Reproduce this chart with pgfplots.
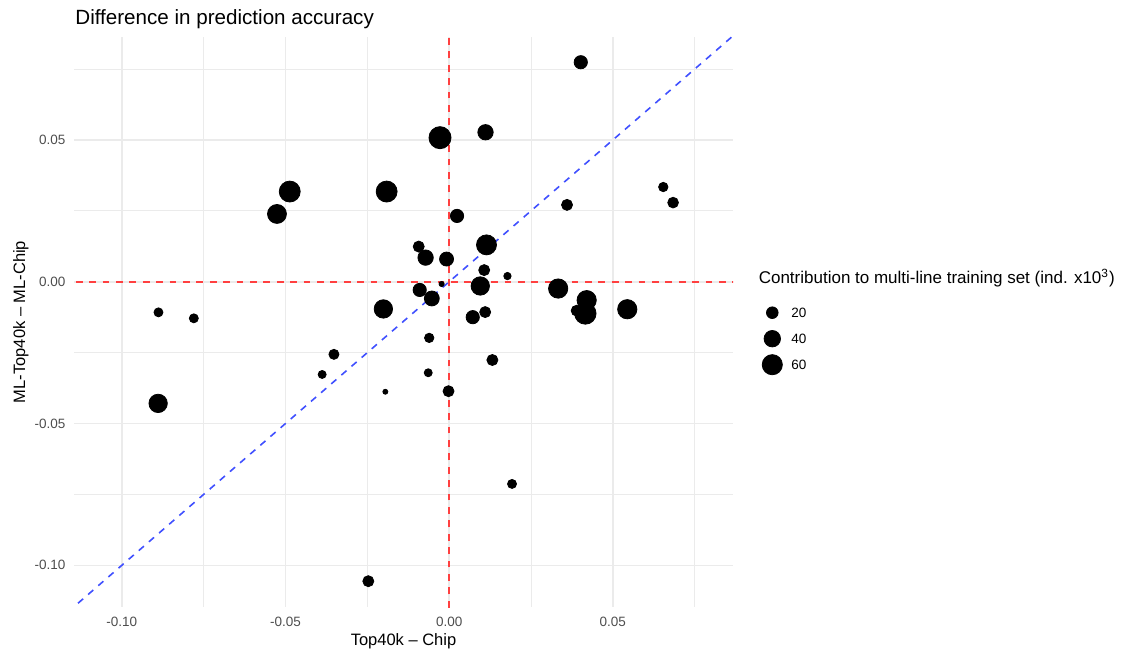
\documentclass[border=0pt]{standalone}
\usepackage{fontspec}
\setmainfont{Liberation Sans}
\usepackage{pgfplots}
\usepackage{pgfplotstable}
\pgfplotsset{compat=1.18}
\definecolor{gridgrey}{HTML}{EBEBEB}
\definecolor{ticktext}{HTML}{4D4D4D}
\definecolor{refred}{HTML}{FF4040}
\definecolor{refblue}{HTML}{4050FF}

% x = Top40k - Chip, y = ML-Top40k - ML-Chip, v = contribution (ind. x10^3)
\pgfplotstableread{
x y v
0.0402 0.0774 26
-0.0028 0.0508 72
0.0111 0.0527 35
-0.0487 0.0318 65
-0.0191 0.0318 65
-0.0526 0.0239 53
0.0654 0.0334 13
0.0684 0.0279 17
0.0360 0.0271 18
0.0024 0.0232 26
-0.0093 0.0124 18
0.0114 0.0130 59
-0.0072 0.0085 35
-0.0008 0.0080 29
0.0107 0.0041 18
0.0178 0.0020 8
-0.0023 -0.0008 4
0.0095 -0.0015 50
-0.0090 -0.0029 26
-0.0053 -0.0059 33
0.0333 -0.0024 55
0.0389 -0.0102 17
0.0420 -0.0065 55
0.0416 -0.0112 68
0.0544 -0.0097 55
-0.0201 -0.0096 50
0.0072 -0.0125 26
0.0110 -0.0107 18
-0.0888 -0.0108 12
-0.0780 -0.0129 12
-0.0352 -0.0256 15
-0.0388 -0.0327 9.5
-0.0195 -0.0388 3.7
-0.0061 -0.0198 13
-0.0064 -0.0321 9.5
-0.0002 -0.0386 18
0.0132 -0.0276 18
-0.0889 -0.0429 50
-0.0247 -0.1056 18
0.0192 -0.0713 12
}\pointdata

\begin{document}
\begin{tikzpicture}
\useasboundingbox (0,0) rectangle (562.5pt,325pt);
\begin{axis}[
  at={(37pt,21.5pt)}, anchor=south west,
  scale only axis, width=329.5pt, height=285pt,
  xmin=-0.1146, xmax=0.0867, ymin=-0.1147, ymax=0.0863,
  scaled ticks=false,
  axis line style={draw=none},
  major tick length=0pt, minor tick length=0pt,
  xtick={-0.1,-0.05,0,0.05}, xticklabels={-0.10,-0.05,0.00,0.05},
  ytick={-0.1,-0.05,0,0.05}, yticklabels={-0.10,-0.05,0.00,0.05},
  minor xtick={-0.075,-0.025,0.025,0.075},
  minor ytick={-0.075,-0.025,0.025,0.075},
  grid=both,
  major grid style={gridgrey, line width=0.8pt},
  minor grid style={gridgrey, line width=0.45pt},
  tick label style={font=\fontsize{6.75}{8}\selectfont, text=ticktext, inner sep=0pt},
  xticklabel style={anchor=north, yshift=-4.75pt},
  yticklabel style={anchor=east, xshift=-4.15pt},
  legend image code/.code={\path[draw=none, fill=none] (-5.5pt,-6pt) rectangle (5.5pt,6pt);
    \draw[#1] plot coordinates {(0pt,0pt)};},
  legend cell align=left,
  legend style={at={(1.04294,0.53737)}, anchor=north west, draw=none, fill=none,
    inner sep=0pt, outer sep=0pt, row sep=1pt, column sep=4.0pt,
    nodes={inner sep=0pt, text depth=0pt, font=\fontsize{6.75}{8}\selectfont}},
]
\addplot[scatter, only marks, mark=*,
  point meta=\thisrow{v},
  scatter/use mapped color={draw=black, fill=black},
  visualization depends on={0.65*sqrt(\thisrow{v}) \as \msize},
  scatter/@pre marker code/.append style={/tikz/mark size=\msize pt, /tikz/line width=0.2pt},
  forget plot] table[x=x, y=y] {\pointdata};

\addplot[refred, line width=1pt, dash pattern=on 3.4pt off 3.3pt, forget plot]
  coordinates {(-0.2,0) (0.2,0)};
\addplot[refred, line width=1pt, dash pattern=on 3.4pt off 3.3pt, forget plot]
  coordinates {(0,-0.2) (0,0.2)};
\addplot[refblue, line width=0.8pt, dash pattern=on 3.4pt off 3.3pt, forget plot]
  coordinates {(-0.2,-0.2) (0.2,0.2)};

\addlegendimage{only marks, mark=*, black, mark size=2.907pt}
\addlegendentry{20}
\addlegendimage{only marks, mark=*, black, mark size=4.111pt}
\addlegendentry{40}
\addlegendimage{only marks, mark=*, black, mark size=5.035pt}
\addlegendentry{60}
\end{axis}

\node[anchor=base west, inner sep=0pt, font=\fontsize{10.3}{12}\selectfont]
  at (37.5pt,312.5pt) {Difference in prediction accuracy};
\node[anchor=base, inner sep=0pt, font=\fontsize{8.25}{10}\selectfont]
  at (201.75pt,2.5pt) {Top40k – Chip};
\node[anchor=base, rotate=90, inner sep=0pt, font=\fontsize{8.25}{10}\selectfont]
  at (12.5pt,164pt) {ML-Top40k – ML-Chip};
\node[anchor=base west, inner sep=0pt, font=\fontsize{8.5}{10}\selectfont]
  at (379.2pt,183.5pt) {Contribution to multi-line training set (ind. x10\textsuperscript{3})};
\end{tikzpicture}
\end{document}
